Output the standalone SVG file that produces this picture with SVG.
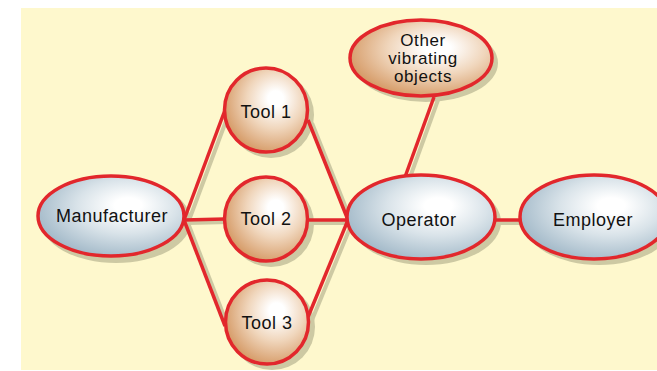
<svg xmlns="http://www.w3.org/2000/svg" width="657" height="371" viewBox="0 0 657 371">
  <defs>
    <radialGradient id="gBlue" cx="0.6" cy="0.4" r="0.62" fx="0.62" fy="0.36">
      <stop offset="0" stop-color="#ffffff"/>
      <stop offset="0.15" stop-color="#ffffff"/>
      <stop offset="0.55" stop-color="#d9e3e9"/>
      <stop offset="1" stop-color="#a5bbca"/>
    </radialGradient>
    <radialGradient id="gTan" cx="0.6" cy="0.4" r="0.62" fx="0.62" fy="0.36">
      <stop offset="0" stop-color="#ffffff"/>
      <stop offset="0.15" stop-color="#ffffff"/>
      <stop offset="0.55" stop-color="#f0d6bc"/>
      <stop offset="1" stop-color="#d69c69"/>
    </radialGradient>
    <clipPath id="page"><rect x="21" y="8" width="636" height="362"/></clipPath>
  </defs>
  <style>
    .bg { fill: #fef8cd; }
    .sh { fill: #cdc9a3; }
    .shl { stroke: #cdc9a3; stroke-width: 4; fill: none; }
    .ln { stroke: #e2272c; stroke-width: 3.5; fill: none; stroke-linecap: butt; }
    .blue { fill: url(#gBlue); stroke: #e2272c; stroke-width: 3.5; }
    .tan { fill: url(#gTan); stroke: #e2272c; stroke-width: 3.5; }
    .t { font-family: "Liberation Sans", Arial, sans-serif; font-size: 18px; letter-spacing: 0.5px; fill: #111; text-anchor: middle; }
    .s { font-family: "Liberation Sans", Arial, sans-serif; font-size: 17px; letter-spacing: 0.6px; fill: #111; text-anchor: middle; }
  </style>
  <rect class="bg" x="21" y="8" width="636" height="362"/>
  <g clip-path="url(#page)">
    <g id="shadows">
      <ellipse class="sh" cx="116" cy="221" rx="75" ry="42"/>
      <ellipse class="sh" cx="271" cy="115" rx="43" ry="43"/>
      <ellipse class="sh" cx="271" cy="224" rx="43" ry="43"/>
      <ellipse class="sh" cx="272" cy="327" rx="43" ry="43"/>
      <ellipse class="sh" cx="426" cy="222" rx="75" ry="43"/>
      <ellipse class="sh" cx="599" cy="222" rx="75" ry="43"/>
      <ellipse class="sh" cx="426" cy="63" rx="72" ry="39"/>
    </g>
    <g id="connectors">
      <g transform="translate(4,3)">
        <line class="shl" x1="184" y1="220" x2="225" y2="110"/>
        <line class="shl" x1="184" y1="220" x2="225" y2="219"/>
        <line class="shl" x1="184" y1="220" x2="225" y2="326"/>
        <line class="shl" x1="308" y1="120" x2="348" y2="220"/>
        <line class="shl" x1="308" y1="220" x2="348" y2="220"/>
        <line class="shl" x1="308" y1="317" x2="348" y2="220"/>
        <line class="shl" x1="405" y1="177" x2="434" y2="97"/>
        <line class="shl" x1="495" y1="220" x2="521" y2="220"/>
      </g>
      <line class="ln" x1="184" y1="220" x2="225" y2="110"/>
      <line class="ln" x1="184" y1="220" x2="225" y2="219"/>
      <line class="ln" x1="184" y1="220" x2="225" y2="326"/>
      <line class="ln" x1="308" y1="120" x2="348" y2="220"/>
      <line class="ln" x1="308" y1="220" x2="348" y2="220"/>
      <line class="ln" x1="308" y1="317" x2="348" y2="220"/>
      <line class="ln" x1="405" y1="177" x2="434" y2="97"/>
      <line class="ln" x1="495" y1="220" x2="521" y2="220"/>
    </g>
    <g id="manufacturer">
      <ellipse class="blue" cx="111" cy="216" rx="73" ry="40"/>
      <text class="t" x="112" y="222">Manufacturer</text>
    </g>
    <g id="tool1">
      <ellipse class="tan" cx="266" cy="110" rx="41.5" ry="42"/>
      <text class="t" x="266" y="118">Tool 1</text>
    </g>
    <g id="tool2">
      <ellipse class="tan" cx="266" cy="219" rx="41.5" ry="42"/>
      <text class="t" x="266" y="225">Tool 2</text>
    </g>
    <g id="tool3">
      <ellipse class="tan" cx="267" cy="322" rx="41.5" ry="42"/>
      <text class="t" x="267" y="329">Tool 3</text>
    </g>
    <g id="operator">
      <ellipse class="blue" cx="421" cy="217" rx="74" ry="42"/>
      <text class="t" x="419" y="226">Operator</text>
    </g>
    <g id="employer">
      <ellipse class="blue" cx="594" cy="217" rx="74" ry="42"/>
      <text class="t" x="593" y="226">Employer</text>
    </g>
    <g id="other">
      <ellipse class="tan" cx="421" cy="58" rx="71" ry="38"/>
      <text class="s" x="423" y="46">Other</text>
      <text class="s" x="423" y="64">vibrating</text>
      <text class="s" x="423" y="81.5">objects</text>
    </g>
  </g>
</svg>
